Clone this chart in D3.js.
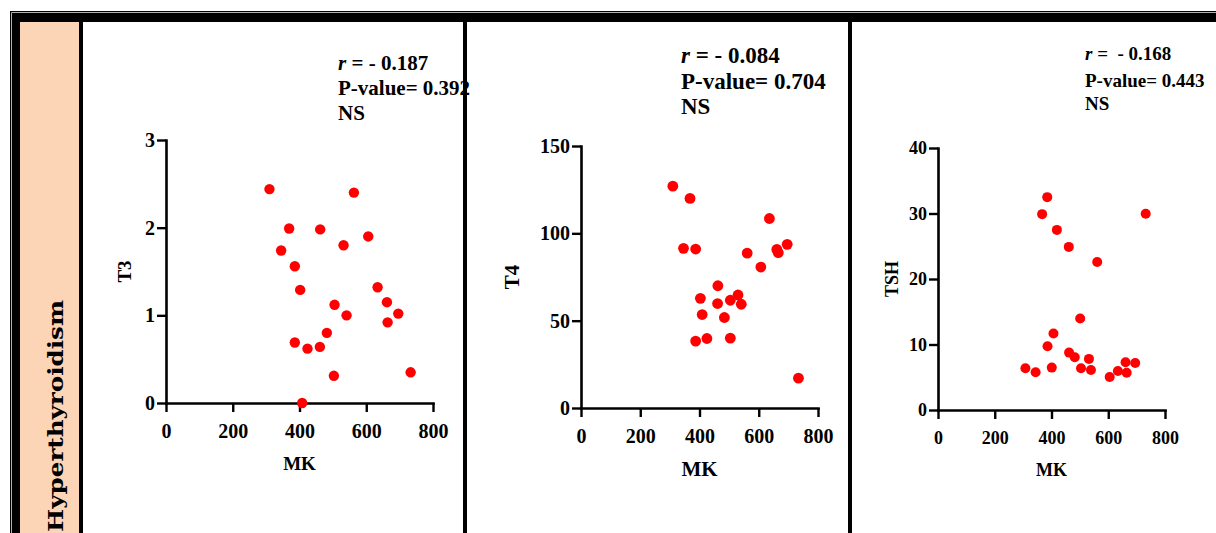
<!DOCTYPE html>
<html><head><meta charset="utf-8">
<script src="https://cdn.jsdelivr.net/npm/d3@7"></script>
<style>
html,body{margin:0;padding:0;background:#fff;}
svg{display:block;}
text{font-family:"Liberation Serif","Times New Roman",serif;font-weight:bold;fill:#000;}
</style></head>
<body>
<script>
// ---- data ----
const groupLabel = "Hyperthyroidism";
const xLabel = "MK";
const xTicks = [0, 200, 400, 600, 800];

const mkT3 = [310,563,369,462,606,532,345,386,402,634,662,505,541,696,664,482,386,424,461,503,733,408];
const t3   = [2.44,2.40,1.99,1.98,1.90,1.80,1.74,1.56,1.29,1.32,1.15,1.12,1.00,1.02,0.92,0.80,0.69,0.62,0.64,0.31,0.35,0.00];
const t3Ticks = [0, 1, 2, 3];

const mkT4 = [310,368,346,387,636,561,661,666,696,607,462,403,461,504,530,541,409,484,387,425,504,734];
const t4   = [127,120,91.4,91,108.5,88.7,90.8,88.9,93.7,80.7,70,62.8,59.8,61.7,64.7,59.4,53.5,51.8,38.3,39.8,40.0,17.1];
const t4Ticks = [0, 50, 100, 150];

const mkTSH = [308,344,367,385,386,401,407,419,461,462,482,501,504,532,539,561,605,634,661,665,695,732];
const tsh   = [6.37,5.76,29.9,32.5,9.73,6.47,11.67,27.5,24.9,8.76,8.05,13.96,6.37,7.8,6.1,22.6,5.04,5.96,7.29,5.7,7.18,29.96];
const tshTicks = [0, 10, 20, 30, 40];

const yLabels = ["T3", "T4", "TSH"];
const rValues = ["- 0.187", "- 0.084", " - 0.168"];
const pValues = ["0.392", "0.704", "0.443"];
const sigLabels = ["NS", "NS", "NS"];

// ---- layout ----
const W = 1216, H = 533;
const svg = d3.select("body").append("svg").attr("width", W).attr("height", H);

// frame
svg.append("rect").attr("x", 20).attr("y", 22).attr("width", 59).attr("height", H - 22).attr("fill", "#FBD5B5");
svg.append("rect").attr("x", 10).attr("y", 11).attr("width", W - 10).attr("height", 1.3).attr("fill", "#000");
svg.append("rect").attr("x", 10).attr("y", 11).attr("width", 1.3).attr("height", H - 11).attr("fill", "#000");
svg.append("rect").attr("x", 12).attr("y", 13).attr("width", W - 12).attr("height", 9).attr("fill", "#000");
svg.append("rect").attr("x", 12).attr("y", 13).attr("width", 8).attr("height", H - 13).attr("fill", "#000");
svg.append("rect").attr("x", 79).attr("y", 13).attr("width", 4).attr("height", H - 13).attr("fill", "#000");
svg.append("rect").attr("x", 463).attr("y", 13).attr("width", 4).attr("height", H - 13).attr("fill", "#000");
svg.append("rect").attr("x", 848).attr("y", 13).attr("width", 4).attr("height", H - 13).attr("fill", "#000");

svg.append("text")
  .attr("transform", "translate(55,300) rotate(-90)")
  .attr("text-anchor", "end")
  .attr("dominant-baseline", "central")
  .attr("textLength", 232)
  .attr("lengthAdjust", "spacingAndGlyphs")
  .style("font-family", "'DejaVu Serif', serif")
  .style("font-size", "21px")
  .text(groupLabel);

const panels = [
  {xs: mkT3, ys: t3, yTicks: t3Ticks, yMax: 3, x0: 166, x1: 433, yTop: 140, yBot: 403,
   tickFont: 20, titleFont: 19, yLabX: 124, mkY: 470, xPad: 12,
   annX: 338, annY: [70, 95, 120], annFont: 21, r: 5.2},
  {xs: mkT4, ys: t4, yTicks: t4Ticks, yMax: 150, x0: 581, x1: 818, yTop: 146, yBot: 408,
   tickFont: 20, titleFont: 21, yLabX: 512, mkY: 476, xPad: 12,
   annX: 681, annY: [63, 89, 114], annFont: 23, r: 5.4},
  {xs: mkTSH, ys: tsh, yTicks: tshTicks, yMax: 40, x0: 938, x1: 1165, yTop: 148, yBot: 410,
   tickFont: 18, titleFont: 18, yLabX: 892, mkY: 476, xPad: 12,
   annX: 1085, annY: [60, 87, 110], annFont: 19, r: 5}
];

panels.forEach((p, i) => {
  const g = svg.append("g");
  const x = d3.scaleLinear().domain([0, 800]).range([p.x0, p.x1]);
  const y = d3.scaleLinear().domain([0, p.yMax]).range([p.yBot, p.yTop]);

  const xa = g.append("g").attr("transform", `translate(0,${p.yBot})`)
    .call(d3.axisBottom(x).tickValues(xTicks).tickSize(9).tickSizeOuter(0).tickPadding(p.xPad).tickFormat(d3.format("d")));
  const ya = g.append("g").attr("transform", `translate(${p.x0},0)`)
    .call(d3.axisLeft(y).tickValues(p.yTicks).tickSize(9).tickSizeOuter(0).tickPadding(2).tickFormat(d3.format("d")));
  [xa, ya].forEach(a => {
    a.selectAll("path.domain").attr("stroke", "#000").attr("stroke-width", 2.6).attr("stroke-linecap", "square");
    a.selectAll(".tick line").attr("stroke", "#000").attr("stroke-width", 2.4);
    a.selectAll(".tick text").attr("fill", "#000")
      .style("font-family", "'Liberation Serif','Times New Roman',serif")
      .style("font-weight", "bold").style("font-size", p.tickFont + "px");
  });

  g.append("text").attr("transform", `translate(${p.yLabX},${(p.yTop + p.yBot) / 2}) rotate(-90)`)
    .attr("text-anchor", "middle").attr("dominant-baseline", "central")
    .style("font-size", p.titleFont + "px").text(yLabels[i]);
  g.append("text").attr("x", (p.x0 + p.x1) / 2).attr("y", p.mkY)
    .attr("text-anchor", "middle").style("font-size", p.titleFont + "px").text(xLabel);

  g.selectAll("circle").data(p.xs.map((v, k) => [v, p.ys[k]])).join("circle")
    .attr("cx", d => x(d[0])).attr("cy", d => y(d[1])).attr("r", p.r).attr("fill", "#FF0000");

  const ann = g.append("g").style("font-size", p.annFont + "px");
  const t1 = ann.append("text").attr("x", p.annX).attr("y", p.annY[0]).attr("xml:space", "preserve");
  t1.append("tspan").style("font-style", "italic").text("r");
  t1.append("tspan").text(" = " + rValues[i]);
  ann.append("text").attr("x", p.annX).attr("y", p.annY[1]).text("P-value= " + pValues[i]);
  ann.append("text").attr("x", p.annX).attr("y", p.annY[2]).text(sigLabels[i]);
});

// divider redrawn on top so the first panel's annotation is overlapped as in the original
svg.append("rect").attr("x", 463).attr("y", 13).attr("width", 4).attr("height", H - 13).attr("fill", "#000");
</script>
</body></html>
